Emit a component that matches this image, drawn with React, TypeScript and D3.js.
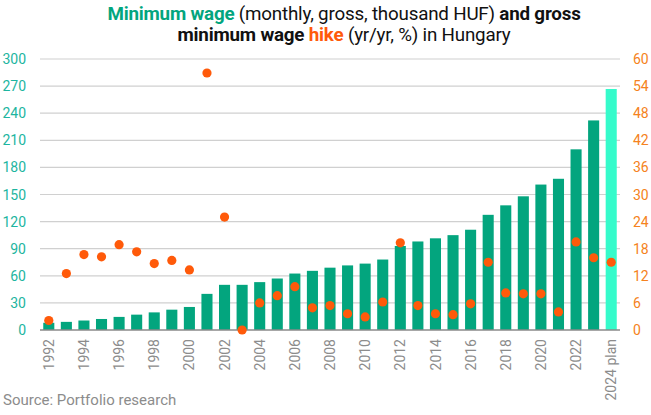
import React from "react";
import * as d3 from "d3";

const years = d3.range(1992, 2025).map(String);
const wage = [
  8, 9, 10.5, 12.2, 14.5, 17, 19.5, 22.5, 25.5, 40, 50, 50, 53, 57, 62.5, 65.5,
  69, 71.5, 73.5, 78, 93, 98, 101.5, 105, 111, 127.5, 138, 148, 161, 167.4, 200,
  232, 266.8,
];
const hike = [
  2.1, 12.5, 16.7, 16.2, 18.9, 17.3, 14.7, 15.4, 13.3, 56.9, 25, 0, 6, 7.6, 9.6,
  4.9, 5.4, 3.6, 2.9, 6.2, 19.3, 5.4, 3.6, 3.4, 5.8, 15, 8.2, 8, 8, 4, 19.5,
  16, 15,
];
const leftTicks = [0, 30, 60, 90, 120, 150, 180, 210, 240, 270, 300];
const rightTicks = [0, 6, 12, 18, 24, 30, 36, 42, 48, 54, 60];
const xLabel = (y: string) => (y === "2024" ? "2024 plan" : +y % 2 === 0 ? y : "");

const W = 651;
const H = 415;
const margin = { top: 59, right: 31, bottom: 85, left: 40 };
const teal = "#03a57e";
const mint = "#35fbcb";
const dot = "#ff5a0a";
const leftCol = "#1db5a0";
const rightCol = "#f58220";

const App: React.FC = () => {
  const x = d3
    .scaleBand()
    .domain(years)
    .range([margin.left, W - margin.right])
    .paddingInner(0.37)
    .paddingOuter(0.185);
  const yL = d3.scaleLinear().domain([0, 300]).range([H - margin.bottom, margin.top]);
  const yR = d3.scaleLinear().domain([0, 60]).range([H - margin.bottom, margin.top]);
  const base = yL(0);

  return (
    <svg width={W} height={H} style={{ position: "absolute", left: 0, top: 0 }} fontFamily="Roboto">
      <text x={344} y={20} textAnchor="middle" fontSize={18.8} fill="#111" letterSpacing={-0.2}>
        <tspan fontWeight="bold" fill={teal}>Minimum wage</tspan>
        <tspan> (monthly, gross, thousand HUF) </tspan>
        <tspan fontWeight="bold">and gross</tspan>
      </text>
      <text x={344} y={41} textAnchor="middle" fontSize={18.8} fill="#111" letterSpacing={-0.2}>
        <tspan fontWeight="bold">minimum wage </tspan>
        <tspan fontWeight="bold" fill={dot}>hike</tspan>
        <tspan> (yr/yr, %) in Hungary</tspan>
      </text>

      {leftTicks.map((t) => (
        <g key={t}>
          {t > 0 && (
            <line x1={margin.left} x2={W - margin.right} y1={yL(t)} y2={yL(t)} stroke="#d0d0d0" strokeWidth={1.2} />
          )}
          <text x={26} y={yL(t)} dy="0.36em" textAnchor="end" fontSize={14} fill={leftCol}>
            {t}
          </text>
        </g>
      ))}
      {rightTicks.map((t) => (
        <text key={t} x={633} y={yR(t)} dy="0.36em" fontSize={14} fill={rightCol}>
          {t}
        </text>
      ))}

      {years.map((yr, i) => (
        <rect
          key={yr}
          x={x(yr)}
          y={yL(wage[i])}
          width={x.bandwidth()}
          height={base - yL(wage[i])}
          fill={yr === "2024" ? mint : teal}
        />
      ))}
      <line x1={margin.left} x2={W - margin.right} y1={base} y2={base} stroke="#8a8a8a" strokeWidth={1.5} />

      {years.map((yr, i) => (
        <circle key={yr} cx={x(yr)! + x.bandwidth() / 2} cy={yR(hike[i])} r={4.6} fill={dot} />
      ))}

      {years.map((yr) => {
        const label = xLabel(yr);
        if (!label) return null;
        const cx = x(yr)! + x.bandwidth() / 2;
        return (
          <text
            key={yr}
            transform={`translate(${cx},${base + 9}) rotate(-90)`}
            textAnchor="end"
            dy="0.36em"
            fontSize={14}
            fill="#8c8c8c"
          >
            {label}
          </text>
        );
      })}

      <text x={3} y={405} fontSize={15} fill="#8c8c8c">
        Source: Portfolio research
      </text>
    </svg>
  );
};

export default App;
